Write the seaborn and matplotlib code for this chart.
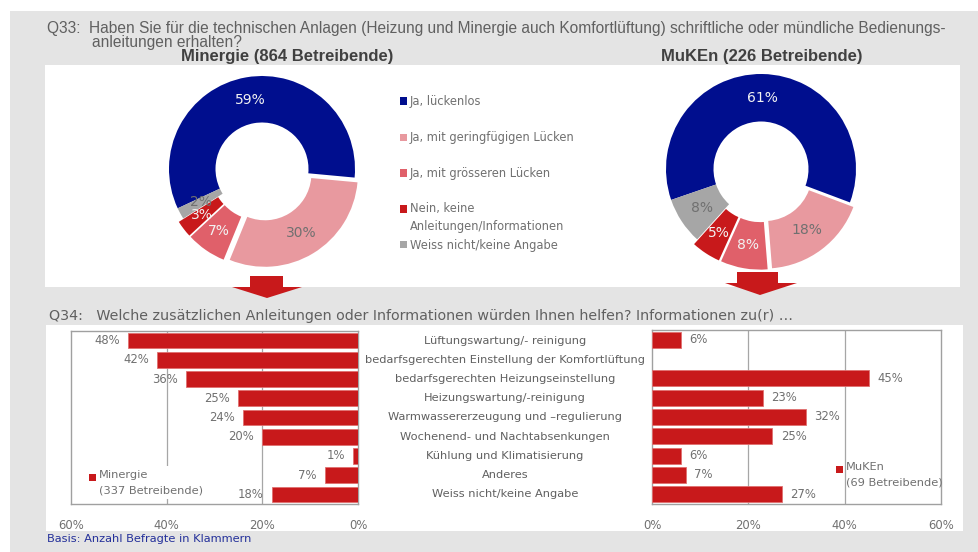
import numpy as np
import matplotlib
matplotlib.use("Agg")
import matplotlib.pyplot as plt
import matplotlib.patches as mpatches
from matplotlib.transforms import blended_transform_factory
import seaborn as sns

# Q33 donut data
donut_labels = ["Ja, lückenlos", "Ja, mit geringfügigen Lücken", "Ja, mit grösseren Lücken",
                "Nein, keine\nAnleitungen/Informationen", "Weiss nicht/keine Angabe"]
minergie_donut = [59, 30, 7, 3, 2]
muken_donut = [61, 18, 8, 5, 8]
donut_colors = ["#000e8e", "#e8999f", "#e0606a", "#c8191b", "#a6a6a6"]
donut_text_colors = ["#f2f2f2", "#707070", "#f2f2f2", "#f2f2f2", "#707070"]

# Q34 bar data
categories = ["Lüftungswartung/- reinigung",
              "bedarfsgerechten Einstellung der Komfortlüftung",
              "bedarfsgerechten Heizungseinstellung",
              "Heizungswartung/-reinigung",
              "Warmwassererzeugung und \u2013regulierung",
              "Wochenend- und Nachtabsenkungen",
              "Kühlung und Klimatisierung",
              "Anderes",
              "Weiss nicht/keine Angabe"]
minergie_bars = [48, 42, 36, 25, 24, 20, 1, 7, 18]
muken_bars = [6, np.nan, 45, 23, 32, 25, 6, 7, 27]
tick_values = [0, 20, 40, 60]
tick_labels = ["0%", "20%", "40%", "60%"]

W, H = 979, 552
RED = "#c8191b"
GREY_TXT = "#606060"
NARROW = ["Liberation Sans", "DejaVu Sans"]

sns.set_theme(style="white")
plt.rcParams["font.family"] = ["DejaVu Sans"]

fig = plt.figure(figsize=(W / 100, H / 100), dpi=100, facecolor="white")


def fx(x):
    return x / W


def fy(y):
    return 1 - y / H


def px_rect(x0, y0, x1, y1, color, z=0):
    r = mpatches.Rectangle((fx(x0), fy(y1)), fx(x1) - fx(x0), fy(y0) - fy(y1),
                           transform=fig.transFigure, facecolor=color, edgecolor="none", zorder=z)
    fig.patches.append(r)


def px_axes(x0, y0, x1, y1):
    return fig.add_axes([fx(x0), fy(y1), fx(x1) - fx(x0), fy(y0) - fy(y1)])


# background panels
px_rect(10, 11, W, H, "#e4e4e4", z=-10)
px_rect(45, 65, 960, 287, "white", z=-9)
px_rect(46, 325, 963, 531, "white", z=-9)

# titles
fig.text(fx(47), fy(28), "Q33:  Haben Sie für die technischen Anlagen (Heizung und Minergie auch Komfortlüftung) "
         "schriftliche oder mündliche Bedienungs-", family=NARROW,
         fontsize=11.2, color=GREY_TXT, va="center")
fig.text(fx(92), fy(42), "anleitungen erhalten?", family=NARROW,
         fontsize=11.2, color=GREY_TXT, va="center")
fig.text(fx(287), fy(57), "Minergie (864 Betreibende)", family=NARROW,
         fontsize=12, color="#404040", weight="bold", ha="center", va="center")
fig.text(fx(762), fy(57), "MuKEn (226 Betreibende)", family=NARROW,
         fontsize=12, color="#404040", weight="bold", ha="center", va="center")


def donut(cx, cy, r, values, start):
    half = r * 1.25
    ax = px_axes(cx - half, cy - half, cx + half, cy + half)
    wedges, _ = ax.pie(values, colors=donut_colors, startangle=start, counterclock=False,
                       explode=[0, 0.06, 0.06, 0.06, 0],
                       wedgeprops=dict(width=0.5, linewidth=0))
    for w, v, tc in zip(wedges, values, donut_text_colors):
        ang = np.deg2rad((w.theta1 + w.theta2) / 2)
        x = w.center[0] + 0.75 * np.cos(ang)
        y = w.center[1] + 0.75 * np.sin(ang)
        ax.text(x, y, f"{v}%", ha="center", va="center", color=tc, fontsize=10)
    ax.set_xlim(-1.25, 1.25)
    ax.set_ylim(-1.25, 1.25)
    ax.set_aspect("equal")
    ax.axis("off")
    ax.patch.set_alpha(0)


donut(262, 169, 93, minergie_donut, 205)
donut(761, 169, 95, muken_donut, 199)

# donut legend
legend_y = [101, 137, 173, 209, 245]
for yy, lab, col in zip(legend_y, donut_labels, donut_colors):
    px_rect(400, yy - 3.5, 407, yy + 3.5, col, z=2)
    if "\n" in lab:
        fig.text(fx(410), fy(217), lab, fontsize=8.3, color="#707070", va="center", linespacing=1.5)
    else:
        fig.text(fx(410), fy(yy), lab, fontsize=8.3, color="#707070", va="center")

# arrows
for (s0, s1, sy0, sy1, h0, h1, tip, ty) in [(250, 283, 276, 287, 232, 302, 267, 298),
                                           (737, 778, 272, 283, 725, 797, 760, 295)]:
    pts = [(s0, sy0), (s1, sy0), (s1, sy1), (h1, sy1), (tip, ty), (h0, sy1), (s0, sy1)]
    poly = mpatches.Polygon([(fx(a), fy(b)) for a, b in pts], closed=True, transform=fig.transFigure,
                            facecolor=RED, edgecolor="none", zorder=3)
    fig.patches.append(poly)

fig.text(fx(49), fy(316), "Q34:   Welche zusätzlichen Anleitungen oder Informationen würden Ihnen helfen? "
         "Informationen zu(r) \u2026", fontsize=10.3, color=GREY_TXT, va="center")

# bar charts
ax_l = px_axes(71, 331, 358, 504)
ax_r = px_axes(652, 330, 941, 504)

for ax, vals, lim in [(ax_l, minergie_bars, (60, 0)), (ax_r, muken_bars, (0, 60))]:
    sns.barplot(x=vals, y=categories, order=categories, orient="h", color=RED, width=0.82,
                edgecolor="#e07070", linewidth=0.6, saturation=1, ax=ax, zorder=3)
    ax.set_xlim(*lim)
    ax.set_ylim(8.5, -0.5)
    ax.set_xticks(tick_values)
    ax.set_xticklabels(tick_labels)
    ax.tick_params(axis="x", length=0, pad=11, labelsize=8.4, labelcolor="#707070")
    ax.set_yticks([])
    ax.set_xlabel("")
    ax.set_ylabel("")
    for sp in ax.spines.values():
        sp.set_color("#a0a0a0")
        sp.set_linewidth(1.0)
    for g in (20, 40):
        ax.axvline(g, color="#a6a6a6", lw=0.9, zorder=1)
    sign = -1 if ax is ax_l else 1
    for i, v in enumerate(vals):
        if np.isnan(v):
            continue
        ax.annotate(f"{v}%", (v, i), xytext=(sign * 6.0, 0), textcoords="offset points",
                    ha="right" if sign < 0 else "left", va="center", fontsize=8.4, color="#707070", zorder=4)

# category labels in the middle
tr = blended_transform_factory(fig.transFigure, ax_l.transData)
for i, c in enumerate(categories):
    ax_l.text(fx(505), i, c, transform=tr, ha="center", va="center", fontsize=8.2, color=GREY_TXT,
              clip_on=False)

# bar legends
ax_l.text(0.098, 0.195, "Minergie\n(337 Betreibende)", transform=ax_l.transAxes, fontsize=8.2,
          color="#707070", va="top", ha="left", linespacing=1.6, zorder=5,
          bbox=dict(facecolor="white", edgecolor="none", pad=3))
px_rect(89, 474, 96, 481, RED, z=6)
ax_r.text(0.671, 0.24, "MuKEn\n(69 Betreibende)", transform=ax_r.transAxes, fontsize=8.2,
          color="#707070", va="top", ha="left", linespacing=1.6, zorder=5)
px_rect(836, 466, 843, 473, RED, z=6)

fig.text(fx(47), fy(539), "Basis: Anzahl Befragte in Klammern", fontsize=8.2, color="#24309a", va="center")

fig.savefig("out.png", dpi=100, facecolor="white")
